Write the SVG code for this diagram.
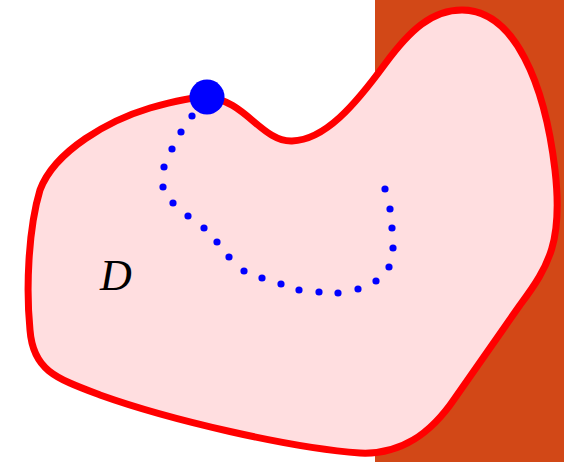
<svg xmlns="http://www.w3.org/2000/svg" width="564" height="462" viewBox="0 0 564 462">
<style>
.bg{fill:#D24817}
.region{fill:#FFDEE0;stroke:#FF0000;stroke-width:7;stroke-linejoin:round}
.dot{fill:#0000FF}
.lbl{font-family:"Liberation Serif","DejaVu Serif",serif;font-style:italic;font-size:44px;fill:#000}
</style>
<rect class="bg" x="375" y="0" width="189" height="462"/>
<g id="region">
<path class="region" d="M 207,97 C 245,100 262,142 292,141 C 325,140 355,105 385,64 C 410,30 432,10 462,10 C 515,10 545,85 555,170 C 563,240 550,265 520,305 L 455,398 C 430,435 400,455 360,453 C 290,448 170,420 100,395 C 55,378 33,370 30,330 C 26,290 28,230 40,190 C 55,150 110,120 150,108 C 175,101 195,97 207,97 Z"/>
<text class="lbl" x="100" y="290">D</text>
</g>
<g id="path">
<circle class="dot" cx="192" cy="116" r="3.6"/>
<circle class="dot" cx="181" cy="132" r="3.6"/>
<circle class="dot" cx="172" cy="149" r="3.6"/>
<circle class="dot" cx="164" cy="167" r="3.6"/>
<circle class="dot" cx="163" cy="187" r="3.6"/>
<circle class="dot" cx="173" cy="203" r="3.6"/>
<circle class="dot" cx="188" cy="216" r="3.6"/>
<circle class="dot" cx="204" cy="228" r="3.6"/>
<circle class="dot" cx="217" cy="242" r="3.6"/>
<circle class="dot" cx="229" cy="257" r="3.6"/>
<circle class="dot" cx="244" cy="271" r="3.6"/>
<circle class="dot" cx="262" cy="278" r="3.6"/>
<circle class="dot" cx="281" cy="284" r="3.6"/>
<circle class="dot" cx="299" cy="290" r="3.6"/>
<circle class="dot" cx="319" cy="292" r="3.6"/>
<circle class="dot" cx="338" cy="293" r="3.6"/>
<circle class="dot" cx="358" cy="289" r="3.6"/>
<circle class="dot" cx="376" cy="281" r="3.6"/>
<circle class="dot" cx="389" cy="267" r="3.6"/>
<circle class="dot" cx="393" cy="248" r="3.6"/>
<circle class="dot" cx="392" cy="228" r="3.6"/>
<circle class="dot" cx="390" cy="209" r="3.6"/>
<circle class="dot" cx="385" cy="189" r="3.6"/>
</g>
<g id="start">
<circle class="dot" cx="207" cy="97" r="17.5"/>
</g>
</svg>
